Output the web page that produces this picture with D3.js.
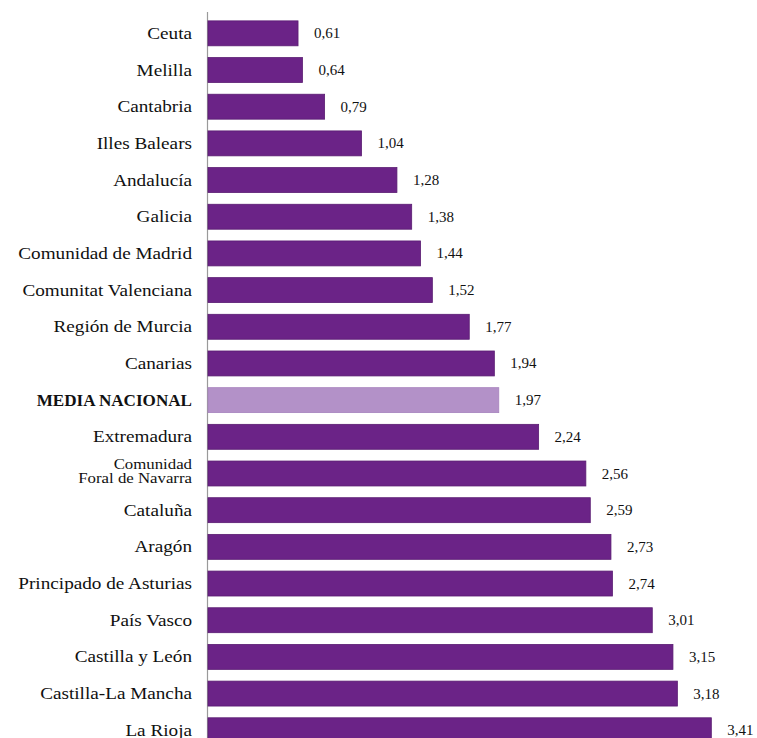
<!DOCTYPE html>
<html><head><meta charset="utf-8">
<script src="https://cdn.jsdelivr.net/npm/d3@7"></script>
<style>html,body{margin:0;padding:0;background:#fff;overflow:hidden}</style>
</head><body>
<svg id="c" width="757" height="738"></svg>
<script>
const categories = ["Ceuta","Melilla","Cantabria","Illes Balears","Andalucía","Galicia","Comunidad de Madrid","Comunitat Valenciana","Región de Murcia","Canarias","MEDIA NACIONAL","Extremadura","Comunidad Foral de Navarra","Cataluña","Aragón","Principado de Asturias","País Vasco","Castilla y León","Castilla-La Mancha","La Rioja"];
const values = [0.61,0.64,0.79,1.04,1.28,1.38,1.44,1.52,1.77,1.94,1.97,2.24,2.56,2.59,2.73,2.74,3.01,3.15,3.18,3.41];
const highlight = "MEDIA NACIONAL";

const svg = d3.select("#c");
const x = d3.scaleLinear().domain([0, 4]).range([208, 208 + 4 * 147.6]);
const y = d3.scaleBand().domain(categories).range([15, 15 + 36.68 * 20]).paddingInner(0.32).paddingOuter(0.16);

svg.append("line").attr("x1", 207.5).attr("x2", 207.5).attr("y1", 12).attr("y2", 738)
  .attr("stroke", "#9a9a9a").attr("stroke-width", 1.2);

svg.selectAll("rect.bar").data(categories).join("rect")
  .attr("class", "bar")
  .attr("x", x(0))
  .attr("y", d => y(d))
  .attr("width", (d, i) => x(values[i]) - x(0))
  .attr("height", y.bandwidth())
  .attr("fill", d => d === highlight ? "#b391c8" : "#6b2387")
  .attr("stroke", d => d === highlight ? "#a682bd" : "#5a1c72")
  .attr("stroke-width", 0.8);

// category labels (horizontally widened like the reference)
const font = "'Liberation Serif', 'DejaVu Serif', serif";
const lab = svg.append("g").attr("font-family", font).attr("font-size", 16).attr("fill", "#111");
categories.forEach((c, i) => {
  const cy = y(c) + y.bandwidth() / 2;
  const g = lab.append("g").attr("transform", `translate(192,${cy}) scale(${c === highlight ? 1.07 : 1.2},1)`);
  const t = g.append("text").attr("x", 0).attr("text-anchor", "end");
  if (c === "Comunidad Foral de Navarra") {
    t.attr("font-size", 14);
    t.append("tspan").attr("x", 0).attr("y", -5).text("Comunidad");
    t.append("tspan").attr("x", 0).attr("y", 9).text("Foral de Navarra");
  } else {
    t.attr("y", 5.5).text(c);
    if (c === highlight) t.attr("font-weight", "bold");
  }
});

// value labels
const fmt = v => v.toFixed(2).replace(".", ",");
svg.append("g").attr("font-family", font).attr("font-size", 15).attr("fill", "#111")
  .selectAll("text").data(categories).join("text")
  .attr("x", (d, i) => x(values[i]) + 16)
  .attr("y", d => y(d) + y.bandwidth() / 2 + 5)
  .text((d, i) => fmt(values[i]));
</script>
</body></html>
